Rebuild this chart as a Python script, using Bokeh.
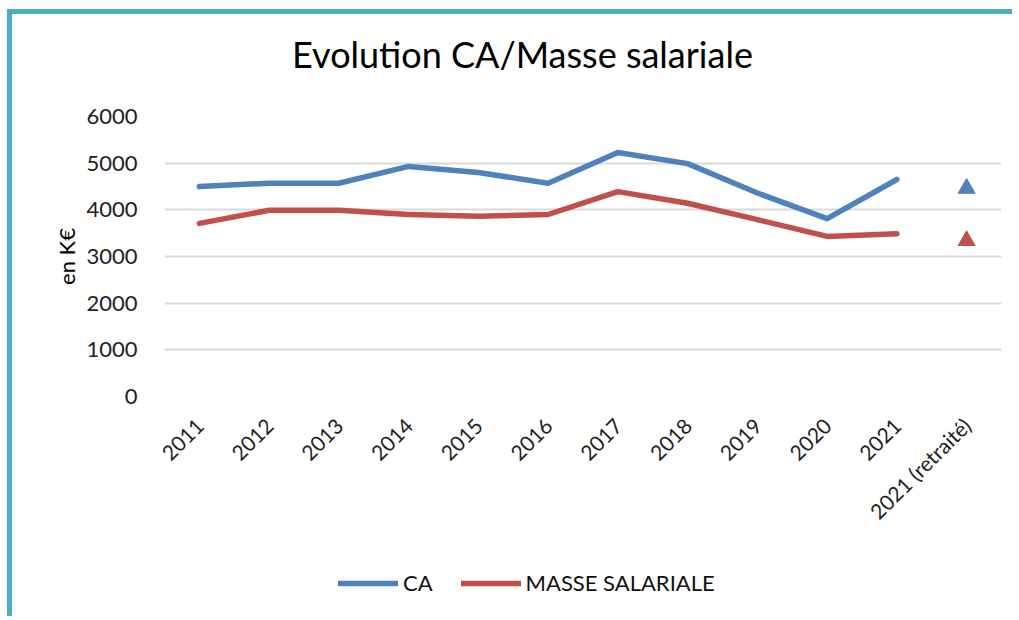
import math
from bokeh.plotting import figure
from bokeh.layouts import column
from bokeh.models import Range1d, FactorRange, Legend, LegendItem, ColumnDataSource, Label
from bokeh.embed import file_html
from bokeh.resources import INLINE

categories = ["2011", "2012", "2013", "2014", "2015", "2016", "2017", "2018",
              "2019", "2020", "2021", "2021 (retraité)"]
years = categories[:11]
ca = [4500, 4570, 4570, 4930, 4800, 4570, 5230, 4990, 4360, 3810, 4650]
masse = [3710, 3990, 3990, 3900, 3860, 3900, 4390, 4140, 3790, 3430, 3490]
retraite_cat = ["2021 (retraité)"]
ca_retraite = [4460]
masse_retraite = [3340]
title_text = "Evolution CA/Masse salariale"
series_names = ["CA", "MASSE SALARIALE"]
y_ticks = [0, 1000, 2000, 3000, 4000, 5000, 6000]

BLUE = "#4F81BD"
RED = "#C0504D"
FONT = "Lato"
W = 1000


def blank(height):
    f = figure(width=W, height=height, output_backend="svg", toolbar_location=None,
               x_axis_type=None, y_axis_type=None, min_border=0,
               x_range=Range1d(0, 1), y_range=Range1d(0, 1))
    f.outline_line_color = None
    return f


# ---- title strip ----
t = blank(70)
t.add_layout(Label(x=358, y=31, x_units="screen", y_units="screen", text=title_text,
                   text_align="center", text_baseline="alphabetic", text_font=FONT,
                   text_font_size="36px", text_color="#000000"))

# ---- main chart ----
p = figure(x_range=FactorRange(*categories, range_padding=0), y_range=Range1d(0, 6000),
           width=W, height=475, output_backend="svg", toolbar_location=None,
           min_border_left=152, min_border_right=11, min_border_top=32,
           min_border_bottom=163)
p.outline_line_color = None

src_ca = ColumnDataSource(dict(x=years, y=ca))
src_ms = ColumnDataSource(dict(x=years, y=masse))
p.line("x", "y", source=src_ca, line_color=BLUE, line_width=5.5,
       line_join="round", line_cap="round")
p.line("x", "y", source=src_ms, line_color=RED, line_width=5.5,
       line_join="round", line_cap="round")
p.scatter(retraite_cat, ca_retraite, marker="triangle", size=17, fill_color=BLUE,
          line_color=BLUE)
p.scatter(retraite_cat, masse_retraite, marker="triangle", size=17, fill_color=RED,
          line_color=RED)

p.xgrid.grid_line_color = None
p.ygrid.grid_line_color = "#D9D9D9"
p.ygrid.grid_line_width = 2
p.yaxis.ticker = y_ticks
p.yaxis.axis_line_color = None
p.yaxis.major_tick_line_color = None
p.yaxis.minor_tick_line_color = None
p.yaxis.major_label_standoff = 21
p.yaxis.major_label_text_font = FONT
p.yaxis.major_label_text_font_size = "22px"
p.yaxis.major_label_text_color = "#222222"
p.yaxis.axis_label = "en K€"
p.yaxis.axis_label_text_font = FONT
p.yaxis.axis_label_text_font_size = "22px"
p.yaxis.axis_label_text_font_style = "normal"
p.yaxis.axis_label_text_color = "#000000"
p.yaxis.axis_label_standoff = 3

p.xaxis.axis_line_color = None
p.xaxis.major_tick_line_color = None
p.xaxis.minor_tick_line_color = None
p.xaxis.major_label_orientation = math.pi / 4
p.xaxis.major_label_standoff = 19
p.xaxis.major_label_text_font = FONT
p.xaxis.major_label_text_font_size = "21px"
p.xaxis.major_label_text_color = "#222222"

# ---- legend strip ----
lg = figure(width=W, height=57, output_backend="svg", toolbar_location=None,
            x_axis_type=None, y_axis_type=None, min_border=0,
            x_range=FactorRange(*categories), y_range=Range1d(-2, -1))
lg.outline_line_color = None
l_ca = lg.line(years, ca, line_color=BLUE, line_width=5.5, line_cap="round")
l_ms = lg.line(years, masse, line_color=RED, line_width=5.5, line_cap="round")
legend = Legend(items=[LegendItem(label=series_names[0], renderers=[l_ca]),
                       LegendItem(label=series_names[1], renderers=[l_ms])],
                orientation="horizontal", location=(174, 20),
                glyph_width=60, glyph_height=20, label_standoff=5, spacing=28,
                label_text_font=FONT, label_text_font_size="22px",
                label_text_color="#111111",
                background_fill_alpha=0, border_line_color=None, padding=0, margin=0)
lg.add_layout(legend, "center")

layout = column(t, p, lg, spacing=0)
layout.styles = {"margin-top": "9px", "margin-left": "7px",
                 "border-top": "5px solid #4BACC6", "border-left": "5px solid #4BACC6"}

open("out.html", "w").write(file_html(layout, INLINE))
